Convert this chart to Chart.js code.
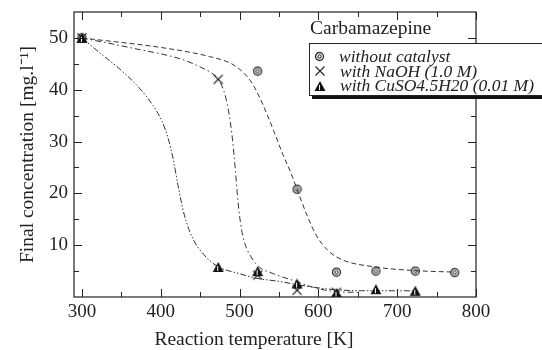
<!DOCTYPE html>
<html lang="en">
<head>
  <meta charset="UTF-8">
  <title>Carbamazepine – final concentration vs reaction temperature</title>
  <script src="https://cdn.jsdelivr.net/npm/chart.js"></script>
  <style>
    html, body { margin: 0; padding: 0; background: #fff; overflow: hidden; }
    #wrap { position: relative; width: 542px; height: 350px; overflow: hidden; }
    #caption {
      position: absolute; left: 310px; top: 17px;
      font: 19.5px 'Liberation Serif', 'Times New Roman', serif; color: #222;
      white-space: nowrap;
    }
    #legend {
      position: absolute; left: 309px; top: 43px;
      width: 262px; height: 53px; box-sizing: border-box;
      border: 1px solid #222; background: #fff;
      box-shadow: 3px 3px 0 #111;
      padding-top: 5px;
      font: italic 17.5px 'Liberation Serif', 'Times New Roman', serif; color: #222;
    }
    .row { height: 14.7px; display: flex; align-items: center; white-space: nowrap; }
    .row canvas { margin: 0 14px 0 4px; flex: none; }
  </style>
</head>
<body>
  <div id="wrap">
    <canvas id="chart" width="542" height="350"></canvas>
    <div id="caption">Carbamazepine</div>
    <div id="legend"></div>
  </div>

  <script>
    // axis ticks
    const xTicks = [300, 400, 500, 600, 700, 800];
    const xMinorTicks = [350, 450, 550, 650, 750];
    const yTicks = [10, 20, 30, 40, 50];
    const yMinorTicks = [5, 15, 25, 35, 45];

    // measured points (temperature K, concentration mg/l)
    const tempNoCat = [300, 523, 573, 623, 673, 723, 773];
    const concNoCat = [50, 43.6, 20.8, 4.8, 5.0, 5.0, 4.7];
    const tempNaOH = [300, 473, 523, 573, 623];
    const concNaOH = [50, 42, 4.2, 1.3, 0.9];
    const tempCuSO4 = [300, 473, 523, 573, 623, 673, 723];
    const concCuSO4 = [50, 5.8, 5.0, 2.6, 0.8, 1.5, 1.2];

    // fitted curves
    const fitTempNoCat = [300, 407, 462, 490, 505, 517, 530, 543, 555, 565, 573, 585, 597, 612, 630, 672, 722, 773];
    const fitConcNoCat = [50, 48.0, 46.4, 45.0, 43.3, 41, 37, 32.2, 27.5, 24, 20.8, 16, 12, 9, 7.2, 5.8, 5.1, 4.8];
    const fitTempNaOH = [300, 365, 428, 458, 465, 473, 480, 486, 491, 495, 498, 502, 507, 514, 524, 543, 568, 600, 625, 650];
    const fitConcNaOH = [50, 48, 45.8, 43.8, 43.2, 42, 39.8, 36, 30.5, 24, 18.5, 13.5, 10.2, 7.9, 5.9, 4.5, 3.2, 1.6, 1.0, 0.9];
    const fitTempCuSO4 = [300, 322, 348, 373, 390, 402, 410, 416, 422, 430, 441, 454, 471, 500, 522, 551, 572, 622, 672, 722];
    const fitConcCuSO4 = [50, 47.2, 44.0, 40.3, 37, 33.8, 30.3, 26.5, 21.5, 15.8, 11.2, 8.3, 6.0, 4.5, 3.6, 3.0, 2.4, 1.4, 1.2, 1.2];

    const labels = ['without catalyst', 'with NaOH (1.0 M)', 'with CuSO4.5H20 (0.01 M)'];

    const pts = (xs, ys) => xs.map((x, i) => ({ x: x, y: ys[i] }));
    const serif = "'Liberation Serif', 'Times New Roman', serif";

    // marker shapes
    function ringMark() {
      const c = document.createElement('canvas');
      c.width = 11; c.height = 11;
      const g = c.getContext('2d');
      g.strokeStyle = '#333';
      g.lineWidth = 1.4;
      g.beginPath(); g.arc(5.5, 5.5, 4, 0, Math.PI * 2); g.stroke();
      g.lineWidth = 1.1;
      g.beginPath(); g.arc(5.5, 5.5, 1.7, 0, Math.PI * 2); g.stroke();
      return c;
    }
    function triMark() {
      const c = document.createElement('canvas');
      c.width = 12; c.height = 12;
      const g = c.getContext('2d');
      g.fillStyle = '#111';
      g.beginPath(); g.moveTo(6, 1); g.lineTo(11.5, 11); g.lineTo(0.5, 11); g.closePath(); g.fill();
      g.strokeStyle = '#fff'; g.lineWidth = 1;
      g.beginPath(); g.moveTo(5.5, 5); g.lineTo(5.5, 10); g.stroke();
      return c;
    }
    function crossMark() {
      const c = document.createElement('canvas');
      c.width = 12; c.height = 12;
      const g = c.getContext('2d');
      g.strokeStyle = '#222'; g.lineWidth = 1.1;
      g.beginPath(); g.moveTo(1.5, 1.5); g.lineTo(10.5, 10.5); g.moveTo(10.5, 1.5); g.lineTo(1.5, 10.5); g.stroke();
      return c;
    }

    // inward ticks and full frame
    const frameTicks = {
      id: 'frameTicks',
      afterDraw(chart) {
        const { ctx, chartArea: a, scales: { x, y } } = chart;
        ctx.save();
        ctx.strokeStyle = '#222';
        ctx.lineWidth = 1.2;
        ctx.strokeRect(a.left, a.top, a.right - a.left, a.bottom - a.top);
        ctx.lineWidth = 1;
        ctx.beginPath();
        const xt = (v, len) => {
          const px = Math.round(x.getPixelForValue(v)) + 0.5;
          ctx.moveTo(px, a.bottom); ctx.lineTo(px, a.bottom - len);
          ctx.moveTo(px, a.top); ctx.lineTo(px, a.top + len);
        };
        const yt = (v, len) => {
          const py = Math.round(y.getPixelForValue(v)) + 0.5;
          ctx.moveTo(a.left, py); ctx.lineTo(a.left + len, py);
          ctx.moveTo(a.right, py); ctx.lineTo(a.right - len, py);
        };
        xTicks.forEach(v => xt(v, 8));
        xMinorTicks.forEach(v => xt(v, 5));
        yTicks.forEach(v => yt(v, 8));
        yMinorTicks.forEach(v => yt(v, 5));
        ctx.stroke();
        ctx.restore();
      }
    };

    // x axis title sits a little left of the plot centre in the original
    const shiftTitle = {
      id: 'shiftTitle',
      beforeDraw(chart) {
        const sx = chart.scales.x;
        if (sx._shifted) return;
        const orig = sx.drawTitle.bind(sx);
        sx.drawTitle = function () {
          chart.ctx.save();
          chart.ctx.translate(-21, 0);
          orig();
          chart.ctx.restore();
        };
        sx._shifted = true;
      }
    };

    const curve = (data, dash) => ({
      data: data,
      showLine: true,
      pointRadius: 0,
      borderColor: '#333',
      borderWidth: 1,
      borderDash: dash,
      cubicInterpolationMode: 'monotone',
      order: 5
    });

    new Chart(document.getElementById('chart').getContext('2d'), {
      type: 'scatter',
      data: {
        datasets: [
          curve(pts(fitTempNoCat, fitConcNoCat), [5, 3]),
          curve(pts(fitTempNaOH, fitConcNaOH), [6, 3, 1.5, 3]),
          curve(pts(fitTempCuSO4, fitConcCuSO4), [6, 2, 1.5, 2, 1.5, 2]),
          { label: labels[0], data: pts(tempNoCat, concNoCat), pointStyle: ringMark(), pointRadius: 5, order: 3 },
          { label: labels[1], data: pts(tempNaOH, concNaOH), pointStyle: crossMark(), pointRadius: 5, order: 2 },
          { label: labels[2], data: pts(tempCuSO4, concCuSO4), pointStyle: triMark(), pointRadius: 5, order: 1 }
        ]
      },
      options: {
        responsive: false,
        animation: false,
        layout: { padding: { left: 0, right: 66, top: 12, bottom: 0 } },
        plugins: { legend: { display: false }, tooltip: { enabled: false } },
        scales: {
          x: {
            type: 'linear',
            min: 290,
            max: 800,
            afterBuildTicks: s => { s.ticks = xTicks.map(v => ({ value: v })); },
            afterFit: s => { s.height = 53; s.paddingLeft = 0; s.paddingRight = 0; },
            grid: { display: false, drawTicks: false },
            border: { display: false },
            ticks: { font: { family: serif, size: 19 }, color: '#222', padding: 4, maxRotation: 0, autoSkip: false },
            title: {
              display: true,
              text: 'Reaction temperature [K]',
              font: { family: serif, size: 19.5, lineHeight: 1 },
              color: '#222',
              padding: { top: 0, bottom: 0 }
            }
          },
          y: {
            min: 0,
            max: 55,
            afterBuildTicks: s => { s.ticks = yTicks.map(v => ({ value: v })); },
            afterFit: s => { s.width = 74; s.paddingTop = 0; s.paddingBottom = 0; },
            grid: { display: false, drawTicks: false },
            border: { display: false },
            ticks: { font: { family: serif, size: 19 }, color: '#222', padding: 6, autoSkip: false },
            title: {
              display: true,
              text: 'Final concentration [mg.l⁻¹]',
              font: { family: serif, size: 19.5, lineHeight: 1 },
              color: '#222',
              padding: { top: 18, bottom: 0 }
            }
          }
        }
      },
      plugins: [frameTicks, shiftTitle]
    });

    // legend box
    const legend = document.getElementById('legend');
    [ringMark(), crossMark(), triMark()].forEach((mark, i) => {
      const row = document.createElement('div');
      row.className = 'row';
      row.appendChild(mark);
      row.appendChild(document.createTextNode(labels[i]));
      legend.appendChild(row);
    });
  </script>
</body>
</html>
